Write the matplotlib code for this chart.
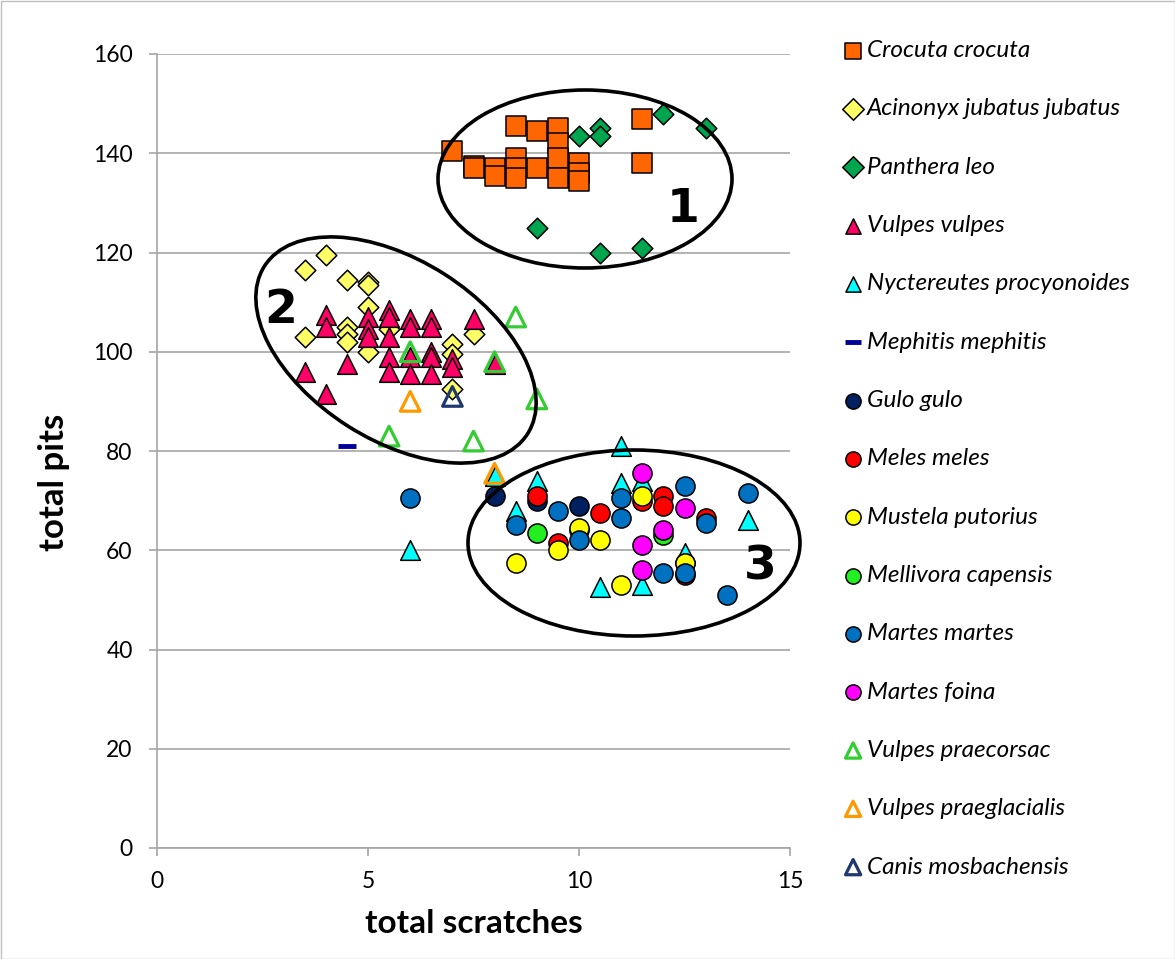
import matplotlib
matplotlib.use('Agg')
import matplotlib.pyplot as plt
from matplotlib.patches import Ellipse, Rectangle
from matplotlib.transforms import IdentityTransform

plt.rcParams['font.family'] = ['Lato', 'DejaVu Sans']

# Data (total scratches, total pits)
crocuta_x = [7, 7.5, 7.5, 8, 8, 8.5, 8.5, 8.5, 8.5, 9, 9, 9.5, 9.5, 9.5, 9.5, 10, 10, 10, 11.5, 11.5]
crocuta_y = [140.5, 137.5, 137, 137, 135.5, 145.5, 139, 137, 135, 144.5, 137, 145, 142, 139, 135, 138, 136, 134.5, 147, 138]

acinonyx_x = [4, 3.5, 4.5, 5, 5, 3.5, 4.5, 4.5, 4.5, 5, 5, 5.5, 7, 7, 7, 7.5]
acinonyx_y = [119.5, 116.5, 114.5, 114, 113.5, 103, 105, 103.5, 102, 109, 100, 104.5, 101.5, 99.5, 92.5, 103.5]

panthera_x = [10, 10.5, 10.5, 12, 13, 9, 10.5, 11.5]
panthera_y = [143.5, 145, 143.5, 148, 145, 125, 120, 121]

vulpes_x = [4, 4, 3.5, 4, 4.5, 5, 5, 5, 5.5, 5.5, 5.5, 5.5, 5.5, 6, 6, 6, 6,
            6.5, 6.5, 6.5, 6.5, 6.5, 7, 7, 7.5, 8]
vulpes_y = [107.5, 105, 96, 91.5, 97.5, 107, 104.5, 103, 108.5, 107, 103, 99, 96, 106.5, 105, 99, 95.5,
            106.5, 105, 100, 99, 95.5, 98.5, 97, 106.5, 97.5]

nyctereutes_x = [6, 8, 9, 8.5, 11, 11.5, 11, 14, 10.5, 11.5, 12.5]
nyctereutes_y = [60, 75, 74, 68, 73.5, 74, 81, 66, 52.5, 53, 59.5]

mephitis_x = [4.5]
mephitis_y = [81]

gulo_x = [8, 10, 9]
gulo_y = [71, 69, 70]

meles_x = [9, 10.5, 12, 12, 11.5, 9.5, 13, 12.5]
meles_y = [71, 67.5, 71, 69, 70, 61.5, 66.5, 55]

mustela_x = [8.5, 9.5, 10, 10.5, 11, 11.5, 12.5, 10, 12.5]
mustela_y = [57.5, 60, 64, 62, 53, 71, 57.5, 64.5, 57.5]

mellivora_x = [9, 12]
mellivora_y = [63.5, 63]

martes_x = [6, 8.5, 9.5, 10, 11, 11, 12.5, 13, 14, 12, 12.5, 13.5]
martes_y = [70.5, 65, 68, 62, 70.5, 66.5, 73, 65.5, 71.5, 55.5, 55.5, 51]

foina_x = [11.5, 12.5, 12, 11.5, 11.5]
foina_y = [75.5, 68.5, 64, 61, 56]

praecorsac_x = [6, 8, 8.5, 9, 5.5, 7.5]
praecorsac_y = [100, 98, 107, 90.5, 83, 82]

praeglacialis_x = [6, 8]
praeglacialis_y = [90, 75.5]

canis_x = [7]
canis_y = [91]

fig = plt.figure(figsize=(11.75, 9.59), dpi=100)
ax = fig.add_axes([157 / 1175, 111 / 959, 633 / 1175, 794 / 959])

edge = dict(edgecolor='black', linewidths=1.1)
ax.scatter(crocuta_x, crocuta_y, marker='s', s=190, c='#FF6600', label='Crocuta crocuta', zorder=3, **edge)
ax.scatter(acinonyx_x, acinonyx_y, marker='D', s=110, c='#FFFF66', label='Acinonyx jubatus jubatus', zorder=3, **edge)
ax.scatter(panthera_x, panthera_y, marker='D', s=110, c='#00A550', label='Panthera leo', zorder=3, **edge)
ax.scatter(vulpes_x, vulpes_y, marker='^', s=200, c='#FF0066', label='Vulpes vulpes', zorder=3, **edge)
ax.scatter(nyctereutes_x, nyctereutes_y, marker='^', s=200, c='#00FFFF', label='Nyctereutes procyonoides', zorder=3, **edge)
ax.scatter(mephitis_x, mephitis_y, marker='_', s=150, c='#000099', linewidths=3.5, label='Mephitis mephitis', zorder=3)
ax.scatter(gulo_x, gulo_y, marker='o', s=190, c='#002060', label='Gulo gulo', zorder=3, **edge)
ax.scatter(meles_x, meles_y, marker='o', s=190, c='#FF0000', label='Meles meles', zorder=3, **edge)
ax.scatter(mustela_x, mustela_y, marker='o', s=190, c='#FFFF00', label='Mustela putorius', zorder=3, **edge)
ax.scatter(mellivora_x, mellivora_y, marker='o', s=190, c='#22EE22', label='Mellivora capensis', zorder=3, **edge)
ax.scatter(martes_x, martes_y, marker='o', s=190, c='#0070C0', label='Martes martes', zorder=3, **edge)
ax.scatter(foina_x, foina_y, marker='o', s=190, c='#FF00FF', label='Martes foina', zorder=3, **edge)
ax.scatter(praecorsac_x, praecorsac_y, marker='^', s=200, facecolors='none', edgecolors='#33CC33',
           linewidths=2.3, label='Vulpes praecorsac', zorder=3)
ax.scatter(praeglacialis_x, praeglacialis_y, marker='^', s=200, facecolors='none', edgecolors='#FF9900',
           linewidths=2.3, label='Vulpes praeglacialis', zorder=3)
ax.scatter(canis_x, canis_y, marker='^', s=200, facecolors='none', edgecolors='#1F3870',
           linewidths=2.3, label='Canis mosbachensis', zorder=3)

ax.set_xlim(0, 15)
ax.set_ylim(0, 160)
ax.set_xticks([0, 5, 10, 15])
ax.set_yticks(range(0, 161, 20))
ax.grid(axis='y', color='#A6A6A6', linewidth=1.2)
ax.set_axisbelow(True)
for s in ['top', 'right']:
    ax.spines[s].set_visible(False)
for s in ['left', 'bottom']:
    ax.spines[s].set_color('#A6A6A6')
    ax.spines[s].set_linewidth(1.2)
ax.tick_params(colors='#A6A6A6', labelcolor='black', labelsize=16.5, length=5.5, width=1.2)
ax.tick_params(axis='x', pad=11)
ax.tick_params(axis='y', pad=12)

ax.set_xlabel('total scratches', fontsize=24, fontweight='bold', va='center')
ax.xaxis.set_label_coords(0.5, -0.0945)
ax.set_ylabel('total pits', fontsize=25, fontweight='bold', va='center', ha='center')
ax.yaxis.set_label_coords(-0.1635, 0.461)

leg = ax.legend(loc='upper left', bbox_to_anchor=(844 / 1175, 1 - 40 / 959), bbox_transform=fig.transFigure,
                frameon=False, prop={'style': 'italic', 'size': 17.5}, labelspacing=1.535, borderpad=0,
                handlelength=0.75, handletextpad=0.2, borderaxespad=0, scatterpoints=1)
for h in leg.legend_handles:
    h.set_sizes([120])

# cluster ellipses drawn in pixel space (y up from the bottom of the image)
H = 959
for cx, cy, w, h, ang in [(585, 179, 294, 178, 0), (396, 350, 312, 180, -32.5), (634, 543, 332, 186, 0)]:
    fig.patches.append(Ellipse((cx, H - cy), w, h, angle=ang, fill=False, edgecolor='black',
                               linewidth=2.6, transform=IdentityTransform(), zorder=5))
for txt, px, py in [('1', 683, 210), ('2', 281, 311), ('3', 760, 567)]:
    fig.text(px / 1175, 1 - py / 959, txt, fontsize=34, fontweight='heavy', ha='center', va='center',
             family='DejaVu Sans')

fig.patches.append(Rectangle((0.5, 0.5), 1174, 958, fill=False, edgecolor='#BFBFBF', linewidth=1,
                             transform=IdentityTransform()))

fig.savefig('out.png', dpi=100)
